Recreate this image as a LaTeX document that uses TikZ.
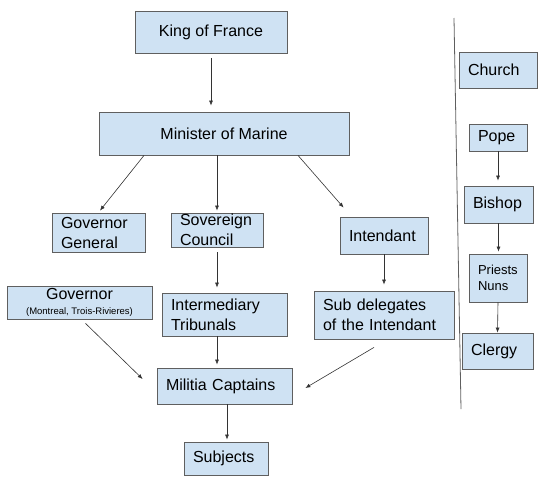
\documentclass[tikz,border=0pt]{standalone}
\usepackage{fontspec}
\setmainfont{Liberation Sans}
\usetikzlibrary{arrows.meta}
\definecolor{boxfill}{HTML}{CFE2F3}
\definecolor{boxline}{HTML}{5F5F5F}
\definecolor{arrline}{HTML}{333333}
\newcommand\boxfont{\fontsize{16}{20}\selectfont}
\newcommand\smallboxfont{\fontsize{13}{16}\selectfont}
\newcommand\tinyboxfont{\fontsize{9.5}{11}\selectfont}

\begin{document}
\begin{tikzpicture}[x=1pt,y=1pt]
\tikzstyle{every node}+=[inner sep=0pt]
\tikzstyle{box}=[draw=boxline, fill=boxfill, line width=0.8pt, font=\boxfont, align=center]
\tikzstyle{lbox}=[box, align=left, inner xsep=9pt]
\tikzstyle{arr}=[draw=arrline, line width=0.6pt, -{Latex[length=5pt,width=4pt]}]
\useasboundingbox (0,0) rectangle (544,-480);
\node [box, minimum width=152, minimum height=42] (king) at (211,-32) {King of France};
\node [box, minimum width=250, minimum height=43] (minister) at (224,-133.5) {Minister of Marine};
\node [lbox, text width=75, minimum height=39] (govgen) at (98.5,-232.5) {Governor\\General};
\node [lbox, text width=74, minimum height=34] (sovereign) at (217,-230) {Sovereign\\Council};
\node [lbox, text width=70, minimum height=37] (intendant) at (384,-235.5) {Intendant};
\node [box, minimum width=145, minimum height=33] (governor) at (79.5,-302.5) {Governor\\[-5pt]{\tinyboxfont(Montreal, Trois-Rivieres)}};
\node [lbox, text width=107, minimum height=43] (tribunals) at (224.5,-314.5) {Intermediary\\Tribunals};
\node [lbox, text width=122, minimum height=48] (subdel) at (384,-315) {Sub delegates\\of the Intendant};
\node [lbox, text width=117, minimum height=36] (militia) at (224.5,-386) {Militia Captains};
\node [lbox, text width=66, minimum height=33] (subjects) at (226,-458.5) {Subjects};
\node [lbox, text width=60, minimum height=36] (church) at (498,-70) {Church};
\node [lbox, text width=40, minimum height=27] (pope) at (498,-137.5) {Pope};
\node [lbox, text width=51, minimum height=37] (bishop) at (498.5,-204.5) {Bishop};
\node [lbox, text width=40, minimum height=48, font=\smallboxfont] (priests) at (498,-278) {Priests\\Nuns};
\node [lbox, text width=53, minimum height=36] (clergy) at (497.5,-351) {Clergy};
\draw [arr, shorten <=5pt, shorten >=6pt] (king.south) -- (king.south |- minister.north);
\draw [arr] ([xshift=-80pt]minister.south) -- ([shift={(1.5pt,2pt)}]govgen.north);
\draw [arr, shorten >=2pt] (minister.south -| sovereign.north) -- (sovereign.north);
\draw [arr] ([xshift=74pt]minister.south) -- ([shift={(4pt,9pt)}]intendant.north west);
\draw [arr, shorten <=5pt, shorten >=5pt] (sovereign.south) -- (sovereign.south |- tribunals.north);
\draw [arr, shorten >=3pt] (tribunals.south -| sovereign.south) -- (sovereign.south |- militia.north);
\draw [arr, shorten >=6pt] (intendant.south) -- (intendant.south |- subdel.north);
\draw [arr] ([shift={(-10pt,-8pt)}]subdel.south) -- ([shift={(13pt,-2pt)}]militia.east);
\draw [arr] ([shift={(6pt,-4pt)}]governor.south) -- ([shift={(-14pt,7pt)}]militia.west);
\draw [arr, shorten >=2pt] ([xshift=2.5pt]militia.south) -- ([xshift=2.5pt]militia.south |- subjects.north);
\draw [arr, shorten >=5pt] (pope.south) -- (pope.south |- bishop.north);
\draw [arr, shorten >=2pt] (bishop.south) -- (bishop.south |- priests.north);
\draw [arr] (priests.south) -- (clergy.north);
\draw [boxline, line width=0.8pt] (454,-18) -- (461,-409);
\end{tikzpicture}
\end{document}
